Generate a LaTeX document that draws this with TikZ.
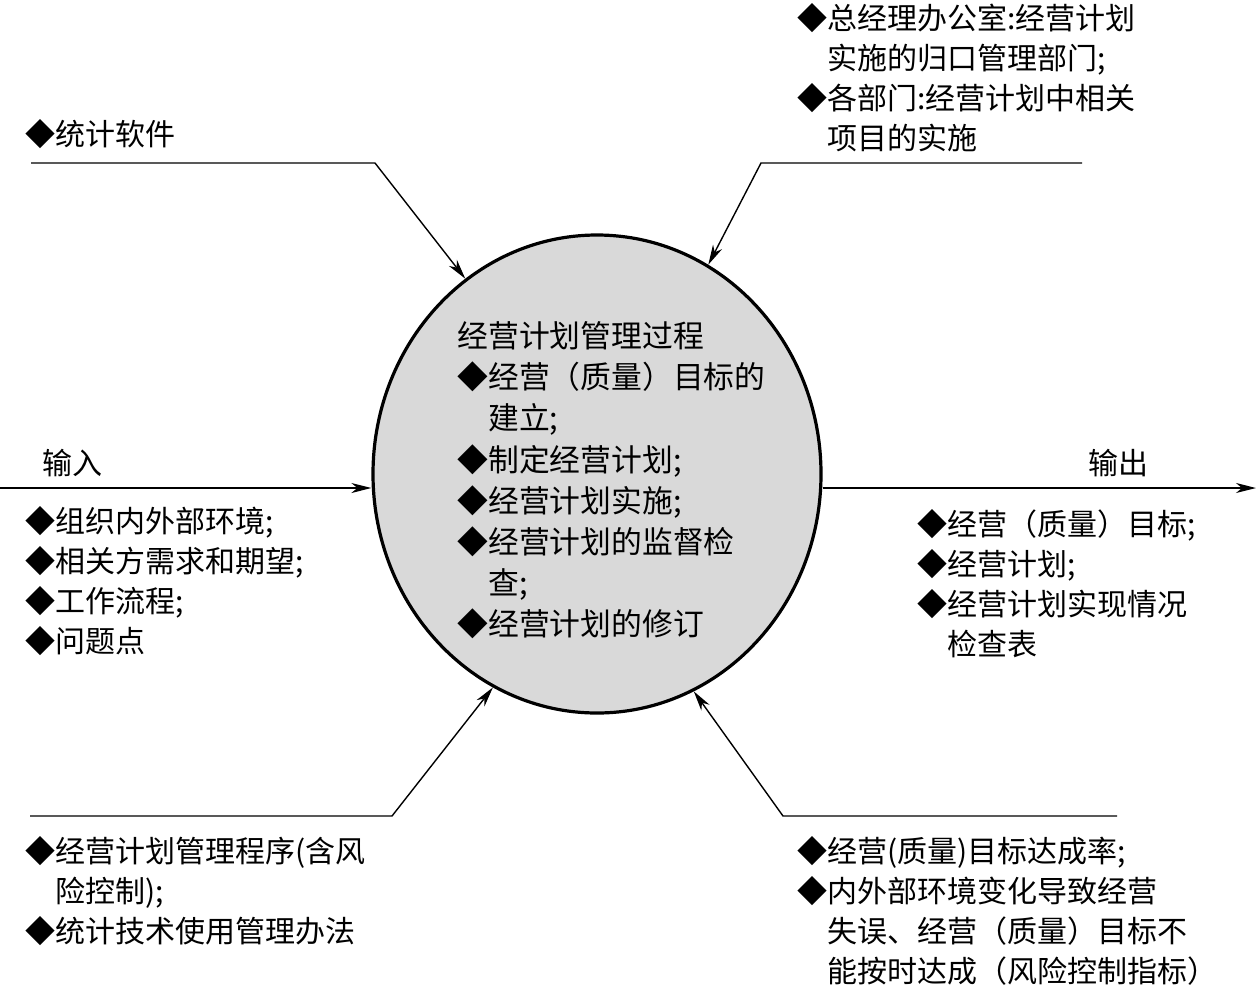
\documentclass[tikz,border=0pt]{standalone}
\usepackage{fontspec}
\setmainfont{Noto Sans CJK SC}
\usetikzlibrary{positioning,arrows.meta,shapes.geometric}
\tikzset{
  proc/.style ={draw, ellipse, line width=1.6pt, fill=black!15, minimum width=224pt, minimum height=239pt, inner sep=0pt},
  txt/.style  ={anchor=north west, align=left, inner sep=0pt, font=\fontsize{15pt}{20pt}\selectfont},
  ctxt/.style ={txt, font=\fontsize{15.4pt}{20.6pt}\selectfont},
  conn/.style ={-{Stealth[length=10pt,width=5pt,inset=3pt]}, line width=0.7pt},
}
\newcommand{\ind}{\phantom{◆}}

\begin{document}
\begin{tikzpicture}[x=0.5pt, y=-0.5pt]
  \useasboundingbox (0,0) rectangle (1256,986);

  \node[proc] (proc) at (597,474) {};
  \node[ctxt] (proctxt) at (457,321) {经营计划管理过程\\◆经营（质量）目标的\\\ind 建立;\\◆制定经营计划;\\◆经营计划实施;\\◆经营计划的监督检\\\ind 查;\\◆经营计划的修订};

  \node[txt] (soft) at (25,119) {◆统计软件};
  \node[txt] (dept) at (797,3) {◆总经理办公室:经营计划\\\ind 实施的归口管理部门;\\◆各部门:经营计划中相关\\\ind 项目的实施};
  \node[txt] (inlbl) at (42,449) {输入};
  \node[txt] (inlist) at (25,506) {◆组织内外部环境;\\◆相关方需求和期望;\\◆工作流程;\\◆问题点};
  \node[txt] (outlbl) at (1088,449) {输出};
  \node[txt] (outlist) at (917,509) {◆经营（质量）目标;\\◆经营计划;\\◆经营计划实现情况\\\ind 检查表};
  \node[txt] (rules) at (25,836) {◆经营计划管理程序(含风\\\ind 险控制);\\◆统计技术使用管理办法};
  \node[txt] (kpi) at (797,836) {◆经营(质量)目标达成率;\\◆内外部环境变化导致经营\\\ind 失误、经营（质量）目标不\\\ind 能按时达成（风险控制指标）};

  % connectors into / out of the process
  \coordinate (soft0) at (31,163);  \coordinate (soft1) at (375,163);
  \draw[conn] (soft0) -- (soft1) -- (proc.124);
  \coordinate (dept0) at (1082,163); \coordinate (dept1) at (761,163);
  \draw[conn] (dept0) -- (dept1) -- (proc.62);
  \coordinate (in0) at (0,488);
  \draw[conn] (in0) -- (in0 -| proc.west);
  \coordinate (out1) at (1256,488);
  \draw[conn] (out1 -| proc.east) -- (out1);
  \coordinate (rules0) at (30,816); \coordinate (rules1) at (392,816);
  \draw[conn] (rules0) -- (rules1) -- (proc.244.6);
  \coordinate (kpi0) at (1117,816); \coordinate (kpi1) at (783,816);
  \draw[conn] (kpi0) -- (kpi1) -- (proc.294.1);
\end{tikzpicture}
\end{document}
